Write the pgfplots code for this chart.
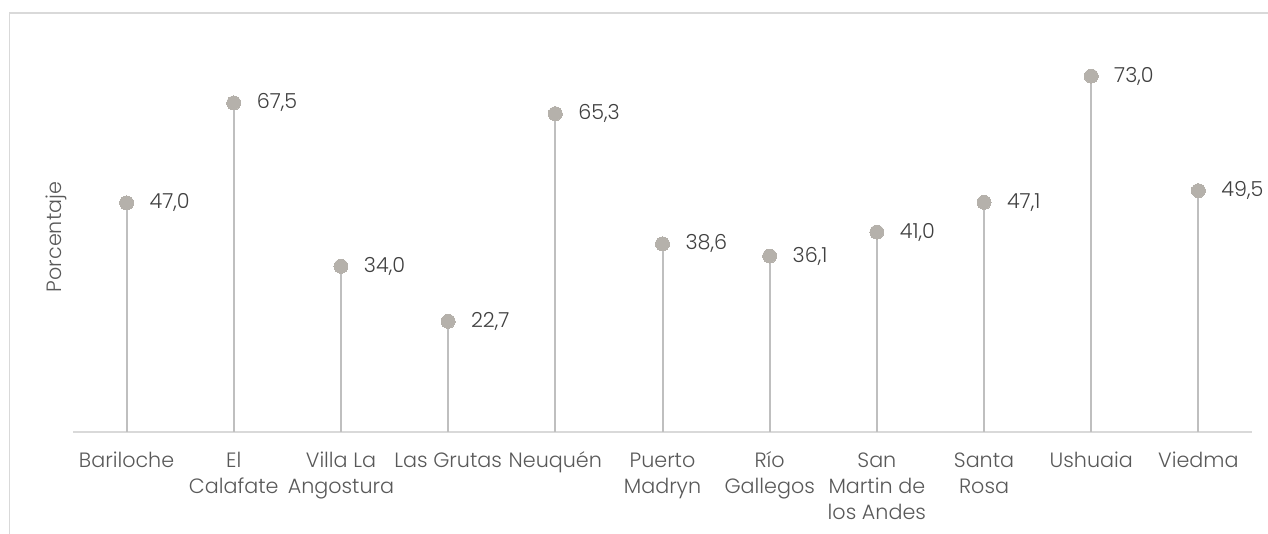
\documentclass[border=0pt]{standalone}
\usepackage{pgfplots}
\pgfplotsset{compat=1.18}
\usepackage{fontspec}
\setmainfont{Poppins Light}
\definecolor{dotc}{RGB}{181,177,171}
\definecolor{stemc}{RGB}{191,191,191}
\definecolor{axc}{RGB}{217,217,217}
\definecolor{lblc}{RGB}{64,64,64}
\definecolor{tickc}{RGB}{89,89,89}
\newcommand\cf{\fontsize{20.7}{26}\selectfont}
\newcommand\tl[1]{\parbox[t]{140pt}{\centering\cf #1}}
\begin{document}
\begin{tikzpicture}[x=1pt,y=1pt]
\path[use as bounding box] (0,0) rectangle (1268,534);
\draw[axc, line width=1.5pt] (9.5,-10) -- (9.5,521) -- (1290,521);
\begin{axis}[
  at={(73pt,102pt)}, anchor=south west,
  scale only axis, width=1179pt, height=390pt,
  xmin=-0.5, xmax=10.5, ymin=0, ymax=80,
  axis lines*=left,
  y axis line style={draw=none},
  x axis line style={axc, line width=2pt, -},
  ytick=\empty,
  xtick={0,...,10},
  major tick length=0pt,
  xticklabels={\tl{Bariloche}, \tl{El\\Calafate}, \tl{Villa La\\Angostura}, \tl{Las Grutas}, \tl{Neuquén}, \tl{Puerto\\Madryn}, \tl{Río\\Gallegos}, \tl{San\\Martin de\\los Andes}, \tl{Santa\\Rosa}, \tl{Ushuaia}, \tl{Viedma}},
  xticklabel style={font=\cf, text=tickc, anchor=base, inner sep=0pt, yshift=-36pt},
  ylabel={Porcentaje},
  ylabel style={font=\cf, text=tickc, at={(axis description cs:-0.014,0.5)}, anchor=center},
  clip=false,
  nodes near coords={\pgfplotspointmeta},
  point meta=explicit symbolic,
  every node near coord/.style={font=\cf, text=lblc, anchor=west, inner sep=0pt, xshift=23pt},
]
\addplot+[ycomb, draw=stemc, line width=2pt, mark=*, mark size=7pt, mark options={draw=dotc, fill=dotc, line width=0pt}]
  table[meta=lab] {
x y lab
0 47.0 47,0
1 67.5 67,5
2 34.0 34,0
3 22.7 22,7
4 65.3 65,3
5 38.6 38,6
6 36.1 36,1
7 41.0 41,0
8 47.1 47,1
9 73.0 73,0
10 49.5 49,5
};
\end{axis}
\end{tikzpicture}
\end{document}
